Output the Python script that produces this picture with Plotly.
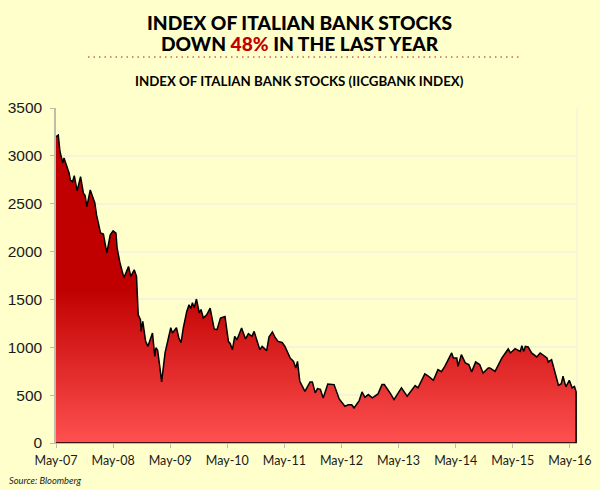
import plotly.graph_objects as go

# decimal years and index level
years = [
    2007.33, 2007.37, 2007.40, 2007.45, 2007.47, 2007.52, 2007.56, 2007.58, 2007.62, 2007.65,
    2007.68, 2007.70, 2007.76, 2007.81, 2007.84, 2007.87, 2007.93, 2007.97, 2008.01, 2008.04,
    2008.08, 2008.11, 2008.16, 2008.19, 2008.22, 2008.28, 2008.33, 2008.38, 2008.40, 2008.45,
    2008.52, 2008.60, 2008.64, 2008.70, 2008.74, 2008.77, 2008.81, 2008.82, 2008.85, 2008.90,
    2008.94, 2009.02, 2009.06, 2009.08, 2009.11, 2009.15, 2009.18, 2009.24, 2009.29, 2009.34,
    2009.37, 2009.44, 2009.48, 2009.52, 2009.56, 2009.62, 2009.66, 2009.69, 2009.72, 2009.75,
    2009.79, 2009.84, 2009.87, 2009.91, 2009.97, 2010.03, 2010.10, 2010.15, 2010.21, 2010.29,
    2010.35, 2010.38, 2010.42, 2010.46, 2010.50, 2010.58, 2010.65, 2010.70, 2010.76, 2010.80,
    2010.90, 2010.94, 2011.02, 2011.06, 2011.12, 2011.17, 2011.22, 2011.29, 2011.34, 2011.43,
    2011.49, 2011.53, 2011.56, 2011.60, 2011.69, 2011.78, 2011.82, 2011.87, 2011.91, 2011.96,
    2012.01, 2012.09, 2012.20, 2012.29, 2012.39, 2012.45, 2012.51, 2012.55, 2012.64, 2012.69,
    2012.74, 2012.80, 2012.87, 2012.97, 2013.04, 2013.08, 2013.18, 2013.25, 2013.38, 2013.48,
    2013.62, 2013.67, 2013.79, 2013.85, 2013.94, 2014.02, 2014.08, 2014.14, 2014.26, 2014.29,
    2014.35, 2014.37, 2014.43, 2014.50, 2014.56, 2014.61, 2014.68, 2014.75, 2014.81, 2014.90,
    2014.93, 2015.02, 2015.08, 2015.14, 2015.25, 2015.29, 2015.37, 2015.46, 2015.49, 2015.52,
    2015.55, 2015.60, 2015.66, 2015.75, 2015.81, 2015.93, 2015.95, 2016.01, 2016.13, 2016.18,
    2016.21, 2016.26, 2016.32, 2016.37, 2016.41, 2016.44,
]
index_level = [
    3200, 3217, 3043, 2926, 2978, 2887, 2820, 2748, 2730, 2793,
    2717, 2634, 2783, 2610, 2585, 2470, 2644, 2564, 2508, 2383,
    2279, 2195, 2182, 2091, 1987, 2175, 2216, 2192, 2039, 1882,
    1726, 1844, 1740, 1810, 1740, 1340, 1288, 1166, 1270, 1062,
    1010, 1149, 905, 995, 968, 787, 638, 941, 1079, 1204,
    1149, 1204, 1100, 1048, 1204, 1375, 1445, 1405, 1465, 1413,
    1504, 1358, 1395, 1306, 1340, 1410, 1191, 1184, 1306, 1322,
    1062, 1040, 975, 1114, 1079, 1201, 1087, 1142, 1114, 1166,
    975, 1010, 965, 1108, 1160, 1100, 1062, 1050, 1010, 889,
    853, 784, 853, 645, 540, 638, 638, 524, 568, 560,
    471, 617, 610, 461, 384, 400, 400, 367, 443, 534,
    478, 506, 471, 513, 610, 610, 524, 454, 576, 488,
    600, 576, 722, 700, 655, 767, 745, 801, 941, 889,
    889, 801, 923, 836, 820, 743, 847, 820, 732, 784,
    784, 749, 819, 889, 982, 941, 986, 957, 1017, 957,
    1010, 1003, 941, 899, 941, 889, 847, 871, 603, 620,
    697, 586, 655, 576, 592, 534,
]
tick_years = [2007.33, 2008.33, 2009.33, 2010.33, 2011.33, 2012.33, 2013.33, 2014.33, 2015.33, 2016.33]
tick_labels = ["May-07", "May-08", "May-09", "May-10", "May-11", "May-12", "May-13", "May-14", "May-15", "May-16"]
y_ticks = [0, 500, 1000, 1500, 2000, 2500, 3000, 3500]

BG = "#FFFFCC"
GRID = "#F4F4DC"
AXIS = "#BDBDA8"

fig = go.Figure()
# closing points at the end so the outline runs down the right edge and along the bottom
fig.add_trace(go.Scatter(
    x=years + [years[-1], years[0]],
    y=index_level + [0, 0],
    mode="lines",
    line=dict(color="#000000", width=1.5),
    fill="tozeroy",
    fillgradient=dict(
        type="vertical",
        start=0,
        stop=3217,
        colorscale=[[0, "#FF5050"], [0.5, "#C00000"], [1, "#C00000"]],
    ),
    hoverinfo="skip",
    showlegend=False,
))

fig.update_layout(
    width=600,
    height=490,
    autosize=False,
    paper_bgcolor=BG,
    plot_bgcolor=BG,
    margin=dict(l=56, r=23, t=108, b=46.5),
    showlegend=False,
    xaxis=dict(
        range=[2007.33, 2016.455],
        automargin=False,
        tickmode="array",
        tickvals=tick_years,
        ticktext=tick_labels,
        ticks="outside",
        ticklen=4,
        tickcolor=AXIS,
        ticklabelstandoff=2,
        showgrid=False,
        showline=True,
        linecolor=AXIS,
        zeroline=False,
        tickfont=dict(family="Lato", size=12.5, color="#1a1a1a"),
    ),
    yaxis=dict(
        range=[0, 3500],
        automargin=False,
        tickmode="array",
        tickvals=y_ticks,
        ticks="outside",
        ticklen=4,
        tickcolor=AXIS,
        ticklabelstandoff=5,
        gridcolor=GRID,
        gridwidth=1.5,
        showline=True,
        linecolor=AXIS,
        linewidth=1.5,
        zeroline=False,
        tickfont=dict(family="Liberation Sans", size=15.5, color="#1a1a1a"),
    ),
    annotations=[
        dict(
            text="INDEX OF ITALIAN BANK STOCKS",
            xref="paper", yref="paper", x=0.468, y=1.256,
            xanchor="center", yanchor="middle", showarrow=False,
            font=dict(family="Lato", size=19.2, color="#000000", weight=900),
        ),
        dict(
            text='DOWN <span style="color:#C00000">48%</span> IN THE LAST YEAR',
            xref="paper", yref="paper", x=0.468, y=1.194,
            xanchor="center", yanchor="middle", showarrow=False,
            font=dict(family="Lato", size=19.2, color="#000000", weight=900),
        ),
        dict(
            text="INDEX OF ITALIAN BANK STOCKS (IICGBANK INDEX)",
            xref="paper", yref="paper", x=0.468, y=1.0805,
            xanchor="center", yanchor="middle", showarrow=False,
            font=dict(family="Lato", size=13.3, color="#000000", weight=700),
        ),
        dict(
            text="<i>Source: Bloomberg</i>",
            xref="paper", yref="paper", x=-0.094, y=-0.112,
            xanchor="left", yanchor="middle", showarrow=False,
            font=dict(family="Lato", size=9.3, color="#1a1a1a"),
        ),
    ],
    shapes=[
        # dotted rule under the headline
        dict(type="line", xref="paper", yref="paper", x0=0.0614, x1=0.894,
             y0=1.152, y1=1.152, line=dict(color="#C8645A", width=1.5, dash="1.5px,4px")),
        # faint right edge of the plot
        dict(type="line", xref="paper", yref="paper", x0=1, x1=1, y0=0, y1=1,
             line=dict(color=GRID, width=1.5), layer="below"),
    ],
)

# the page's default body margin would push the chart off the window
fig.write_html("out.html", post_script="document.body.style.margin = '0';", config={"displayModeBar": False})
